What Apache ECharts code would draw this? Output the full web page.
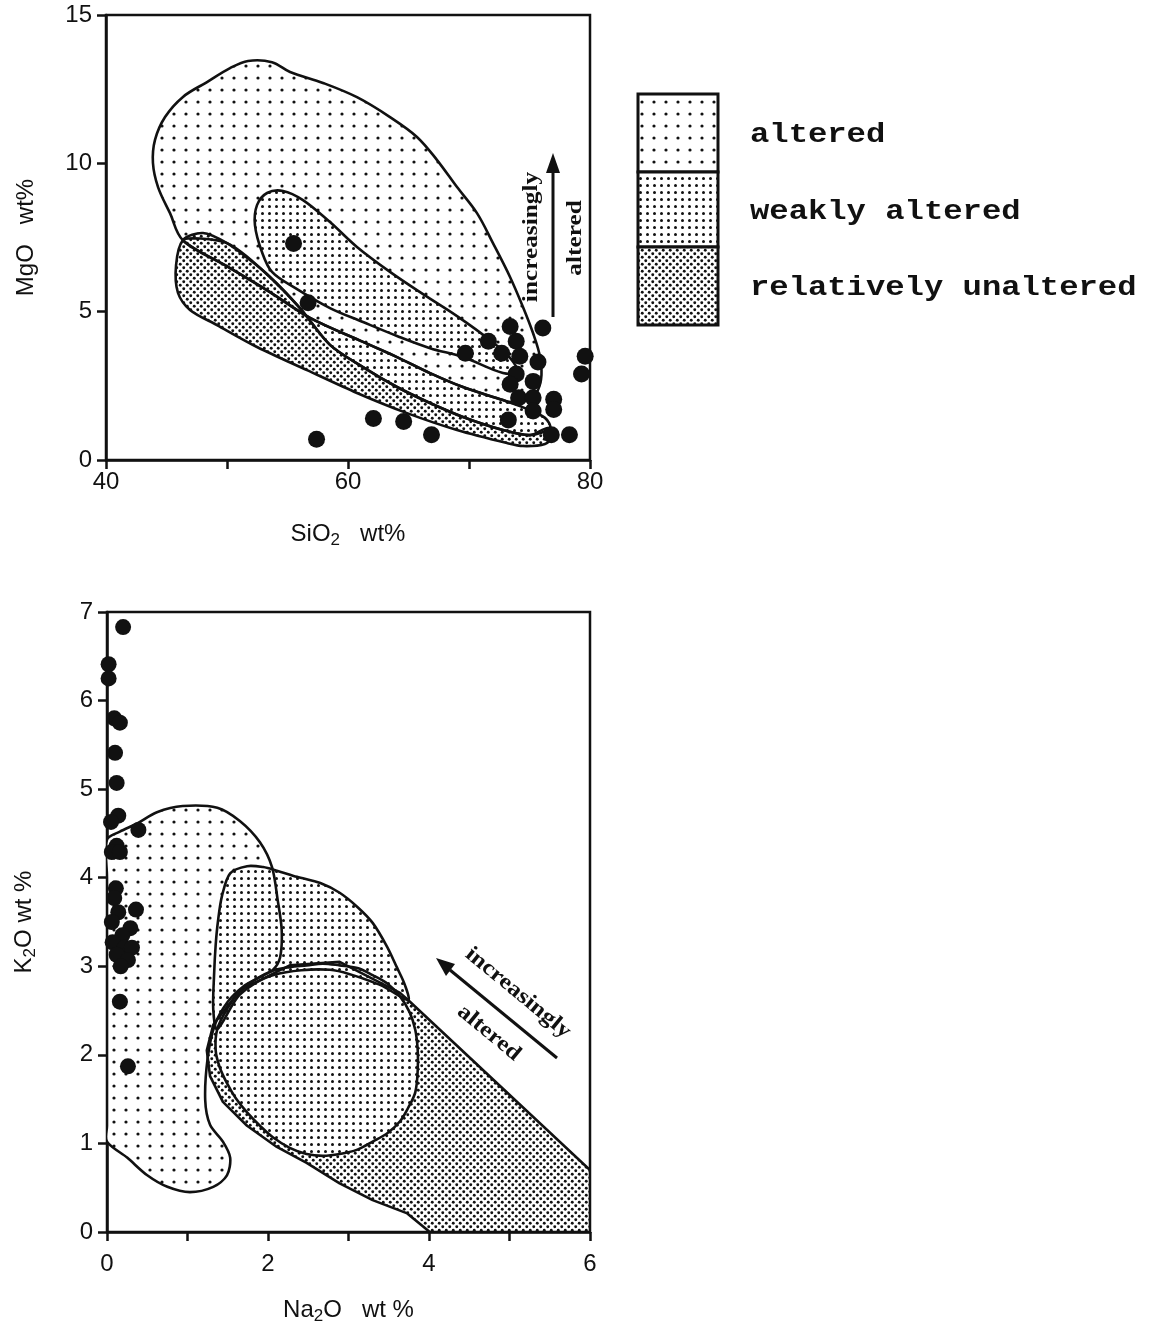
<!DOCTYPE html>
<html>
<head>
<meta charset="utf-8">
<title>MgO / SiO2 and K2O / Na2O alteration fields</title>
<script src="https://cdn.jsdelivr.net/npm/echarts@6/dist/echarts.min.js"></script>
<style>
  html, body { margin: 0; padding: 0; background: #fff; }
  #chart { width: 1151px; height: 1334px; }
</style>
</head>
<body>
<div id="chart"></div>
<script>
// tick labels
const sio2Labels = [40, 60, 80]
const na2oLabels = [0, 2, 4, 6]

// samples, upper plot: [SiO2 wt%, MgO wt%]
const topSamples = [
  [55.5, 7.3], [56.7, 5.3], [57.4, 0.7], [62.1, 1.4], [64.6, 1.3], [66.9, 0.85],
  [69.7, 3.6], [71.6, 4.0], [73.4, 4.5], [72.7, 3.6], [73.9, 4.0], [74.2, 3.5],
  [76.1, 4.45], [75.7, 3.3], [73.9, 2.9], [75.3, 2.65], [73.4, 2.55], [74.1, 2.1],
  [75.3, 2.1], [77.0, 2.05], [77.0, 1.7], [75.3, 1.65], [73.25, 1.35], [76.8, 0.85],
  [78.3, 0.85], [79.6, 3.5], [79.3, 2.9]
]

// samples, lower plot: [Na2O wt%, K2O wt%]
const bottomSamples = [
  [0.20, 6.83], [0.02, 6.41], [0.02, 6.25], [0.09, 5.80], [0.16, 5.75], [0.10, 5.41],
  [0.12, 5.07], [0.14, 4.70], [0.05, 4.63], [0.39, 4.54], [0.12, 4.36], [0.06, 4.29],
  [0.16, 4.29], [0.11, 3.88], [0.09, 3.77], [0.14, 3.61], [0.36, 3.64], [0.06, 3.50],
  [0.29, 3.43], [0.19, 3.35], [0.07, 3.27], [0.22, 3.21], [0.31, 3.21], [0.12, 3.13],
  [0.26, 3.07], [0.17, 3.00], [0.16, 2.60], [0.26, 1.87]
]

// field outlines, upper plot (SiO2, MgO)
const topAltered = [
  [46.36, 7.41], [45.29, 8.32], [44.30, 9.20], [43.88, 10.01], [44.05, 10.79], [44.88, 11.56],
  [46.36, 12.24], [48.35, 12.74], [50.25, 13.21], [51.74, 13.45], [53.72, 13.41], [55.21, 13.08],
  [57.93, 12.71], [60.74, 12.23], [63.47, 11.56], [65.70, 10.89], [67.36, 10.11], [69.01, 9.20],
  [70.66, 8.32], [71.98, 7.31], [73.39, 6.17], [74.46, 5.16], [75.29, 4.28], [75.87, 3.47],
  [75.95, 2.70], [75.29, 2.12], [73.80, 1.92], [72.81, 2.02], [69.50, 2.46], [66.78, 2.93],
  [64.05, 3.47], [61.24, 3.98], [56.86, 4.79], [53.55, 5.66], [50.25, 6.47]
]
const topWeaklyBand = [
  [46.36, 7.41], [50.25, 6.47], [53.55, 5.66], [56.86, 4.79], [61.24, 3.98], [64.05, 3.47],
  [66.78, 2.93], [69.50, 2.46], [72.81, 2.02], [74.63, 1.75], [76.28, 1.42], [76.69, 1.08],
  [75.04, 0.84], [72.81, 1.01], [69.50, 1.45], [66.78, 1.92], [64.05, 2.46], [61.24, 3.13],
  [58.51, 3.88], [56.03, 5.12], [53.55, 6.17], [50.00, 7.31]
]
const topUnaltered = [
  [46.36, 7.41], [48.02, 7.65], [50.00, 7.31], [51.90, 6.74], [53.55, 6.17], [56.03, 5.12],
  [58.51, 3.88], [61.24, 3.13], [64.05, 2.46], [66.78, 1.92], [69.50, 1.45], [72.81, 1.01],
  [75.04, 0.84], [76.53, 1.08], [76.94, 0.81], [76.28, 0.54], [74.46, 0.47], [73.14, 0.57],
  [69.01, 1.01], [64.88, 1.58], [60.74, 2.26], [56.61, 3.03], [52.48, 3.81], [49.17, 4.55],
  [46.94, 5.06], [45.95, 5.63], [45.79, 6.57]
]
const topWeaklyLobe = [
  [53.31, 9.00], [54.63, 9.07], [56.28, 8.76], [58.51, 8.02], [60.74, 7.18], [63.47, 6.34],
  [66.20, 5.59], [69.01, 4.85], [71.74, 4.04], [73.39, 3.44], [73.97, 2.97], [72.81, 2.93],
  [69.50, 3.47], [66.78, 3.77], [64.05, 4.18], [61.24, 4.65], [58.51, 5.12], [55.62, 5.80],
  [53.72, 6.34], [52.89, 7.01], [52.31, 7.92], [52.48, 8.59]
]

// field outlines, lower plot (Na2O, K2O)
const bottomAltered = [
  [0.00, 1.02], [0.00, 1.2], [0.00, 1.8], [0.00, 2.6], [0.00, 3.4], [0.00, 4.0], [0.00, 4.43],
  [0.16, 4.52], [0.37, 4.61], [0.62, 4.74], [0.94, 4.81],
  [1.37, 4.79], [1.65, 4.64], [1.90, 4.40], [2.05, 4.12], [2.12, 3.75], [2.17, 3.41],
  [2.15, 3.10], [2.06, 2.96], [1.88, 2.87], [1.69, 2.77], [1.50, 2.60], [1.34, 2.34],
  [1.25, 1.96], [1.22, 1.49], [1.28, 1.21], [1.44, 1.02], [1.53, 0.84], [1.49, 0.64],
  [1.32, 0.51], [1.03, 0.45], [0.75, 0.51], [0.50, 0.64], [0.25, 0.84]
]
const bottomUnaltered = [
  [1.32, 2.34], [1.65, 2.73], [2.27, 3.01], [2.89, 3.05], [3.64, 2.70], [3.74, 2.62],
  [6.00, 0.70], [6.00, 0.00], [4.01, 0.00], [3.73, 0.21], [3.30, 0.36], [2.89, 0.55],
  [2.48, 0.78], [2.11, 0.96], [1.74, 1.20], [1.44, 1.47], [1.28, 1.76], [1.24, 2.05]
]
const bottomWeaklyUpper = [
  [1.53, 4.05], [1.74, 4.13], [1.94, 4.12], [2.11, 4.08], [2.36, 4.01], [2.65, 3.94],
  [2.89, 3.83], [3.11, 3.67], [3.30, 3.49], [3.48, 3.22], [3.60, 2.99], [3.70, 2.79],
  [3.74, 2.62], [3.39, 2.79], [2.77, 2.96], [2.06, 2.90], [1.65, 2.68], [1.37, 2.29],
  [1.32, 2.51], [1.33, 2.90], [1.35, 3.24], [1.38, 3.52], [1.43, 3.80]
]
const bottomWeaklyCircle = [
  [1.37, 2.29], [1.50, 2.53], [1.65, 2.71], [1.84, 2.85], [2.06, 2.95], [2.27, 2.99],
  [2.48, 3.01], [2.68, 3.03], [2.89, 3.01], [3.11, 2.98], [3.30, 2.90], [3.49, 2.80],
  [3.64, 2.66], [3.76, 2.48], [3.83, 2.28], [3.86, 2.05], [3.86, 1.83], [3.83, 1.58],
  [3.74, 1.40], [3.64, 1.25], [3.49, 1.12], [3.30, 1.02], [3.11, 0.93], [2.89, 0.88],
  [2.68, 0.86], [2.48, 0.88], [2.27, 0.95], [2.06, 1.07], [1.90, 1.20], [1.74, 1.35],
  [1.60, 1.51], [1.49, 1.68], [1.40, 1.86], [1.35, 2.05]
]

// dot screens used for the three alteration classes
function dotScreen(step, r, stagger) {
  const c = document.createElement('canvas')
  c.width = step
  c.height = step
  const ctx = c.getContext('2d')
  ctx.fillStyle = '#fff'
  ctx.fillRect(0, 0, step, step)
  ctx.fillStyle = '#111'
  const spots = stagger ? [[step / 4, step / 4], [step * 3 / 4, step * 3 / 4]] : [[step / 2, step / 2]]
  spots.forEach(function (s) {
    ctx.beginPath()
    ctx.arc(s[0], s[1], r, 0, Math.PI * 2)
    ctx.fill()
  })
  return { image: c, repeat: 'repeat' }
}
const sparse = dotScreen(12, 1.6, false)
const medium = dotScreen(7, 1.5, false)
const dense = dotScreen(7, 1.45, true)

const ink = '#111'
const numFont = "'Liberation Sans', Arial, sans-serif"

// polygons for one plot: a fill layer and an outline layer
function fieldSeries(axis, fields, fills, smooth, outline) {
  return {
    type: 'custom',
    xAxisIndex: axis,
    yAxisIndex: axis,
    z: outline ? 3 : 2,
    silent: true,
    clip: true,
    data: fields.map(function (f, i) { return [f[0][0], f[0][1], i] }),
    renderItem: function (params, api) {
      const i = params.dataIndex
      const pts = fields[i].map(function (p) { return api.coord(p) })
      return {
        type: 'polygon',
        shape: { points: pts, smooth: smooth[i] },
        style: outline
          ? { fill: 'none', stroke: ink, lineWidth: 2.6, lineJoin: 'round' }
          : { fill: fills[i] }
      }
    }
  }
}

function axisBase() {
  return {
    axisLine: { show: true, onZero: false, lineStyle: { color: ink, width: 2.5 } },
    axisTick: { show: true, length: 9, lineStyle: { color: ink, width: 2.5 } },
    splitLine: { show: false },
    axisLabel: { color: ink, fontSize: 24, fontFamily: numFont },
    nameTextStyle: {
      color: ink, fontSize: 24, fontFamily: numFont,
      rich: { s: { fontSize: 17, fontFamily: numFont, color: ink, padding: [12, 0, 0, 0] } }
    }
  }
}

const topFields = [topAltered, topWeaklyBand, topUnaltered, topWeaklyLobe]
const topFills = [sparse, medium, dense, medium]
const bottomFields = [bottomAltered, bottomUnaltered, bottomWeaklyUpper, bottomWeaklyCircle]
const bottomFills = [sparse, dense, medium, medium]

const legendFont = "bold 28px 'Liberation Mono', 'DejaVu Sans Mono', monospace"
const noteFont = "bold 22px 'Liberation Serif', 'DejaVu Serif', serif"

const option = {
  backgroundColor: '#fff',
  animation: false,
  grid: [
    { left: 106, top: 15, width: 484, height: 445, show: true, borderColor: ink, borderWidth: 2.5 },
    { left: 107, top: 612, width: 483, height: 620, show: true, borderColor: ink, borderWidth: 2.5 }
  ],
  xAxis: [
    Object.assign(axisBase(), {
      gridIndex: 0, type: 'value', min: 40, max: 80, interval: 10,
      name: 'SiO{s|2}   wt%', nameLocation: 'middle', nameGap: 60
    }),
    Object.assign(axisBase(), {
      gridIndex: 1, type: 'value', min: 0, max: 6, interval: 1,
      name: 'Na{s|2}O   wt %', nameLocation: 'middle', nameGap: 64
    })
  ],
  yAxis: [
    Object.assign(axisBase(), {
      gridIndex: 0, type: 'value', min: 0, max: 15, interval: 5,
      name: 'MgO   wt%', nameLocation: 'middle', nameGap: 68
    }),
    Object.assign(axisBase(), {
      gridIndex: 1, type: 'value', min: 0, max: 7, interval: 1,
      name: 'K{s|2}O wt %', nameLocation: 'middle', nameGap: 68
    })
  ],
  series: [
    fieldSeries(0, topFields, topFills, [0.35, 0.3, 0.3, 0.35], false),
    fieldSeries(0, topFields, topFills, [0.35, 0.3, 0.3, 0.35], true),
    fieldSeries(1, bottomFields, bottomFills, [0.3, 0, 0.3, 0.35], false),
    fieldSeries(1, bottomFields, bottomFills, [0.3, 0, 0.3, 0.35], true),
    {
      type: 'scatter', xAxisIndex: 0, yAxisIndex: 0, z: 4,
      symbolSize: 17, itemStyle: { color: ink, opacity: 1 },
      data: topSamples
    },
    {
      type: 'scatter', xAxisIndex: 1, yAxisIndex: 1, z: 4,
      symbolSize: 16, itemStyle: { color: ink, opacity: 1 },
      data: bottomSamples
    }
  ],
  graphic: [
    // legend boxes
    { type: 'rect', shape: { x: 638, y: 94, width: 80, height: 78 }, style: { fill: sparse, stroke: ink, lineWidth: 3 } },
    { type: 'rect', shape: { x: 638, y: 172, width: 80, height: 75 }, style: { fill: medium, stroke: ink, lineWidth: 3 } },
    { type: 'rect', shape: { x: 638, y: 247, width: 80, height: 78 }, style: { fill: dense, stroke: ink, lineWidth: 3 } },
    { type: 'text', x: 750, y: 135, scaleX: 1.15, style: { text: 'altered', font: legendFont, fill: ink, align: 'left', verticalAlign: 'middle' } },
    { type: 'text', x: 750, y: 212, scaleX: 1.15, style: { text: 'weakly altered', font: legendFont, fill: ink, align: 'left', verticalAlign: 'middle' } },
    { type: 'text', x: 750, y: 288, scaleX: 1.15, style: { text: 'relatively unaltered', font: legendFont, fill: ink, align: 'left', verticalAlign: 'middle' } },
    // upper plot trend arrow
    { type: 'line', shape: { x1: 553, y1: 317, x2: 553, y2: 170 }, style: { stroke: ink, lineWidth: 3 } },
    { type: 'polygon', shape: { points: [[553, 153], [546, 173], [560, 173]] }, style: { fill: ink } },
    { type: 'text', x: 531, y: 237, rotation: Math.PI / 2, scaleX: 1.15, style: { text: 'increasingly', font: noteFont, fill: ink, align: 'center', verticalAlign: 'middle' } },
    { type: 'text', x: 575, y: 238, rotation: Math.PI / 2, scaleX: 1.15, style: { text: 'altered', font: noteFont, fill: ink, align: 'center', verticalAlign: 'middle' } },
    // lower plot trend arrow
    { type: 'line', shape: { x1: 557, y1: 1058, x2: 450, y2: 970 }, style: { stroke: ink, lineWidth: 3 } },
    { type: 'polygon', shape: { points: [[436, 958], [455, 964], [446, 976]] }, style: { fill: ink } },
    { type: 'text', x: 518, y: 993, rotation: -0.69, scaleX: 1.15, style: { text: 'increasingly', font: noteFont, fill: ink, align: 'center', verticalAlign: 'middle' } },
    { type: 'text', x: 489, y: 1033, rotation: -0.69, scaleX: 1.15, style: { text: 'altered', font: noteFont, fill: ink, align: 'center', verticalAlign: 'middle' } }
  ]
}

option.xAxis[0].axisLabel.formatter = function (v) { return sio2Labels.indexOf(v) >= 0 ? String(v) : '' }
option.xAxis[0].axisLabel.margin = 10
option.xAxis[1].axisLabel.formatter = function (v) { return na2oLabels.indexOf(v) >= 0 ? String(v) : '' }
option.xAxis[1].axisLabel.margin = 20
option.yAxis[0].axisLabel.margin = 14
option.yAxis[1].axisLabel.margin = 14

const myChart = echarts.init(document.getElementById('chart'), null, { renderer: 'canvas' })
myChart.setOption(option)
</script>
</body>
</html>
